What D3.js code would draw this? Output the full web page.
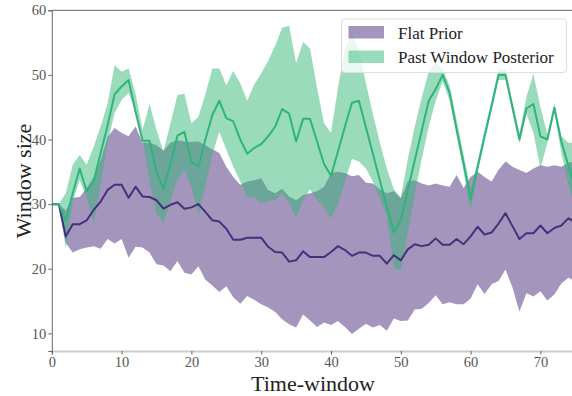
<!DOCTYPE html>
<html>
<head>
<meta charset="utf-8">
<script src="https://cdn.jsdelivr.net/npm/d3@7"></script>
<style>
  body { margin: 0; background: #fff; }
  svg { display: block; font-family: "Liberation Serif", "DejaVu Serif", serif; }
</style>
</head>
<body>
<svg id="chart" width="572" height="396"></svg>
<script>
// values, one per time-window (0..75)
const flatMean = [30, 30, 25.0, 26.9, 26.9, 27.5, 29.1, 30.4, 32.2, 33.0, 33.0, 31.0, 32.7, 31.2, 31.1, 30.6, 29.3, 29.9, 30.3, 29.3,
  29.5, 30.0, 28.8, 27.5, 27.3, 26.2, 24.5, 24.5, 24.8, 24.8, 24.8, 23.4, 22.6, 22.5, 21.1, 21.3, 22.7, 21.8, 21.8, 21.8,
  22.6, 23.5, 22.9, 22.0, 22.5, 22.5, 22.0, 22.0, 20.8, 22.1, 21.3, 23.0, 23.8, 23.5, 23.7, 24.7, 23.7, 23.7, 24.6, 23.8,
  25.0, 26.5, 25.3, 25.6, 27.0, 28.6, 26.6, 24.6, 25.5, 25.5, 26.7, 25.5, 26.3, 26.7, 27.8, 27.2];
const flatLow = [30, 30, 24.0, 22.5, 23.0, 23.3, 23.5, 23.1, 24.6, 23.9, 24.6, 21.7, 23.4, 23.3, 22.5, 20.7, 20.5, 19.6, 21.2, 19.4,
  19.1, 20.4, 18.3, 17.4, 16.4, 17.3, 15.6, 14.6, 15.8, 15.2, 14.5, 14.0, 13.3, 12.2, 11.4, 10.9, 12.9, 12.0, 11.0, 11.7,
  11.3, 11.9, 11.0, 9.9, 10.7, 11.5, 10.9, 11.3, 10.4, 12.3, 11.9, 12.0, 13.7, 13.8, 14.7, 15.9, 14.5, 14.8, 14.5, 14.5,
  15.4, 17.6, 16.1, 17.6, 18.1, 19.9, 17.1, 13.4, 16.2, 15.7, 16.5, 15.1, 16.0, 17.7, 18.6, 18.1];
const flatHigh = [30, 30, 29.0, 31.0, 31.1, 32.5, 34.2, 36.8, 40.4, 41.8, 41.0, 40.5, 42.0, 39.5, 39.5, 39.1, 38.3, 39.5, 39.9, 39.7,
  39.6, 39.7, 39.1, 38.5, 37.9, 35.8, 34.2, 33.0, 33.5, 33.7, 34.0, 32.2, 31.7, 32.4, 31.2, 30.6, 31.4, 31.7, 32.0, 32.7,
  34.8, 35.0, 34.8, 34.3, 34.5, 33.3, 33.2, 32.3, 31.7, 32.0, 30.9, 33.5, 33.7, 33.2, 32.9, 33.2, 32.9, 32.7, 34.5, 32.5,
  34.2, 35.0, 34.2, 33.5, 35.3, 36.6, 35.8, 35.3, 34.8, 35.5, 36.0, 35.8, 36.0, 35.8, 36.4, 36.6];

const pastMean = [30, 30, 27.5, 31.7, 35.5, 32.0, 33.5, 37.9, 42.2, 47.0, 48.2, 49.2, 44.3, 39.8, 39.8, 35.0, 32.3, 36.3, 40.6, 41.2,
  36.5, 35.8, 40.0, 43.8, 46.0, 43.3, 42.8, 40.0, 37.8, 38.7, 39.3, 40.5, 42.0, 44.7, 44.0, 39.7, 43.2, 43.2, 39.7, 36.2,
  34.4, 38.2, 42.0, 45.7, 46.0, 41.9, 37.8, 33.7, 29.6, 25.6, 27.5, 32.2, 36.8, 41.4, 46.0, 47.8, 50.0, 47.2, 41.6, 36.3,
  30.8, 35.7, 40.5, 45.2, 50.0, 50.0, 45.0, 40.0, 44.8, 45.5, 40.5, 40.0, 44.9, 39.7, 36.0, 32.5];
const pastLow = [30, 30, 23.2, 30.5, 33.7, 31.0, 27.0, 33.0, 39.5, 44.1, 46.1, 47.2, 44.5, 40.0, 33.5, 28.6, 27.0, 30.6, 33.7, 35.3,
  32.7, 28.3, 32.7, 37.6, 41.2, 38.4, 35.8, 33.5, 31.1, 31.0, 30.1, 30.5, 30.6, 31.7, 30.1, 27.8, 30.6, 32.3, 30.6, 29.5,
  27.8, 30.0, 33.5, 37.0, 36.6, 35.5, 33.5, 31.0, 28.0, 20.0, 19.8, 25.5, 31.5, 37.0, 42.0, 46.0, 49.0, 46.0, 40.5, 35.0,
  29.0, 34.8, 39.7, 44.4, 49.2, 49.2, 44.2, 39.4, 44.0, 41.0, 35.5, 39.5, 44.2, 38.0, 33.0, 29.0];
const pastHigh = [30, 30, 31.7, 36.1, 37.6, 36.1, 38.9, 42.0, 45.6, 51.5, 50.5, 51.0, 47.1, 41.5, 45.5, 41.5, 38.1, 42.5, 46.9, 47.1,
  42.5, 43.5, 47.0, 51.0, 51.0, 48.4, 50.6, 48.7, 46.0, 48.5, 50.2, 52.2, 54.5, 57.3, 57.6, 51.8, 55.1, 54.1, 48.0, 42.5,
  41.0, 48.0, 54.0, 56.5, 54.0, 48.7, 44.0, 39.5, 35.5, 32.3, 31.0, 37.0, 42.0, 46.5, 50.5, 52.0, 51.0, 48.3, 43.0, 37.6,
  32.3, 36.6, 41.3, 46.0, 50.8, 50.8, 45.8, 41.0, 46.6, 50.2, 45.0, 40.8, 45.6, 40.5, 39.5, 39.5];

const xTicks = [0, 10, 20, 30, 40, 50, 60, 70];
const yTicks = [10, 20, 30, 40, 50, 60];
const seriesNames = ["Flat Prior", "Past Window Posterior"];

const purpleLine = "#46307e", greenLine = "#2fb47c";

const svg = d3.select("#chart");
const plotLeft = 51.8, plotTop = 10.3, plotBottom = 351;

const x = d3.scaleLinear().domain([0, 75]).range([plotLeft, plotLeft + 75 * 6.98]);
const y = d3.scaleLinear().domain([7.27, 60]).range([plotBottom, plotTop]);

svg.append("clipPath").attr("id", "plotClip")
  .append("rect").attr("x", plotLeft).attr("y", plotTop).attr("width", 572 - plotLeft).attr("height", plotBottom - plotTop);

const plot = svg.append("g").attr("clip-path", "url(#plotClip)");

function band(low, high) {
  return d3.area()
    .x((d, i) => x(i))
    .y0((d, i) => y(low[i]))
    .y1((d, i) => y(high[i]))(low);
}
function line(vals) {
  return d3.line().x((d, i) => x(i)).y(d => y(d))(vals);
}

//bands first, then the means on top
plot.append("path").attr("d", band(flatLow, flatHigh))
  .attr("fill", "#472c7a").attr("fill-opacity", 0.5);
plot.append("path").attr("d", band(pastLow, pastHigh))
  .attr("fill", "#35b779").attr("fill-opacity", 0.5);
plot.append("path").attr("d", line(flatMean))
  .attr("fill", "none").attr("stroke", purpleLine).attr("stroke-width", 2).attr("stroke-linejoin", "round");
plot.append("path").attr("d", line(pastMean))
  .attr("fill", "none").attr("stroke", greenLine).attr("stroke-width", 2).attr("stroke-linejoin", "round");

//axes
const gx = svg.append("g").attr("transform", "translate(0," + plotBottom + ")")
  .call(d3.axisBottom(x).tickValues(xTicks).tickSize(3.5).tickPadding(2));
const gy = svg.append("g").attr("transform", "translate(" + plotLeft + ",0)")
  .call(d3.axisLeft(y).tickValues(yTicks).tickSize(3.5).tickPadding(2));
[gx, gy].forEach(g => {
  g.attr("font-family", null);
  g.selectAll("text").attr("font-size", 14.5).attr("fill", "#555");
  g.selectAll(".tick line").attr("stroke", "#666");
});
gx.select(".domain").attr("stroke", "#ccc").attr("stroke-width", 2);
gy.select(".domain").attr("stroke", "#666");
svg.append("line").attr("x1", plotLeft).attr("x2", 572).attr("y1", plotTop).attr("y2", plotTop)
  .attr("stroke", "#666").attr("stroke-width", 1);

svg.append("text").attr("x", 313).attr("y", 390.5).attr("text-anchor", "middle")
  .attr("font-size", 22).attr("fill", "#222").text("Time-window");
svg.append("text").attr("transform", "translate(31,181) rotate(-90)").attr("text-anchor", "middle")
  .attr("font-size", 22).attr("fill", "#222").text("Window size");

//legend
const legend = svg.append("g");
legend.append("rect").attr("x", 341.5).attr("y", 19).attr("width", 225).attr("height", 53.5).attr("rx", 3)
  .attr("fill", "#fff").attr("fill-opacity", 0.8).attr("stroke", "#ddd");
const legendColors = ["#472c7a", "#35b779"];
seriesNames.forEach((name, k) => {
  legend.append("rect").attr("x", 348.5).attr("y", 26 + k * 24.5).attr("width", 35.5).attr("height", 12.5)
    .attr("fill", legendColors[k]).attr("fill-opacity", 0.5);
  legend.append("text").attr("x", 398).attr("y", 38.5 + k * 24.5)
    .attr("font-size", 17).attr("fill", "#222").text(name);
});
</script>
</body>
</html>
